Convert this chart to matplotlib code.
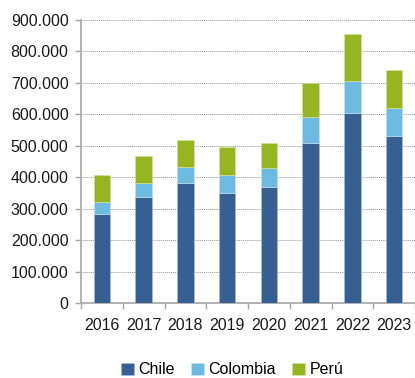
import matplotlib.pyplot as plt
import numpy as np
from matplotlib.ticker import FuncFormatter

plt.rcParams['font.family'] = ['Liberation Sans', 'DejaVu Sans']

years = ['2016', '2017', '2018', '2019', '2020', '2021', '2022', '2023']
chile = [283000, 337000, 381000, 350000, 369000, 509000, 605000, 530000]
colombia = [37000, 44000, 51000, 57000, 59000, 81000, 100000, 89000]
peru = [87000, 88000, 85000, 89000, 81000, 109000, 150000, 123000]

c_chile = '#366092'
c_col = '#6dbbe0'
c_peru = '#97b521'

fig = plt.figure(figsize=(4.15, 3.78), dpi=100)
ax = fig.add_axes([81 / 415, 1 - 303 / 378, 334 / 415, 283 / 378])

x = np.arange(len(years))
w = 0.39
chile = np.array(chile)
colombia = np.array(colombia)
peru = np.array(peru)
ax.bar(x, chile, w, color=c_chile, label='Chile', edgecolor='#a9bdd6', linewidth=0.4, zorder=3)
ax.bar(x, colombia, w, bottom=chile, color=c_col, label='Colombia', edgecolor='#c6e6f4', linewidth=0.4, zorder=3)
ax.bar(x, peru, w, bottom=chile + colombia, color=c_peru, label='Perú', edgecolor='#d4e4a0', linewidth=0.4, zorder=3)

ax.set_xlim(-0.5, len(years) - 0.5)
ax.set_ylim(0, 900000)
ax.set_yticks(np.arange(0, 900001, 100000))
ax.yaxis.set_major_formatter(FuncFormatter(lambda v, p: f'{int(v):,}'.replace(',', '.')))
ax.grid(axis='y', color='#999999', linestyle=(0, (1, 1)), linewidth=0.7, zorder=0)

ax.set_xticks(x)
ax.set_xticklabels(years)
ax.set_xticks(np.arange(-0.5, len(years), 1), minor=True)
ax.tick_params(axis='x', which='major', length=0, pad=11, labelsize=11.5, colors='#1a1a1a')
ax.tick_params(axis='x', which='minor', length=4, width=1, color='#a6a6a6', direction='out')
ax.tick_params(axis='y', length=4, width=1, color='#a6a6a6', pad=5, labelsize=11.5, colors='#1a1a1a')
ax.tick_params(axis='y', color='#a6a6a6')

for s in ['top', 'right']:
    ax.spines[s].set_visible(False)
for s in ['left', 'bottom']:
    ax.spines[s].set_color('#a6a6a6')
    ax.spines[s].set_linewidth(1.2)

fig.legend(loc='center', bbox_to_anchor=(0.56, 1 - 370 / 378), ncol=3, frameon=False,
           fontsize=11.5, handlelength=0.8, handleheight=0.8, handletextpad=0.3,
           columnspacing=1.0, borderaxespad=0)

fig.savefig('out.png', dpi=100)
